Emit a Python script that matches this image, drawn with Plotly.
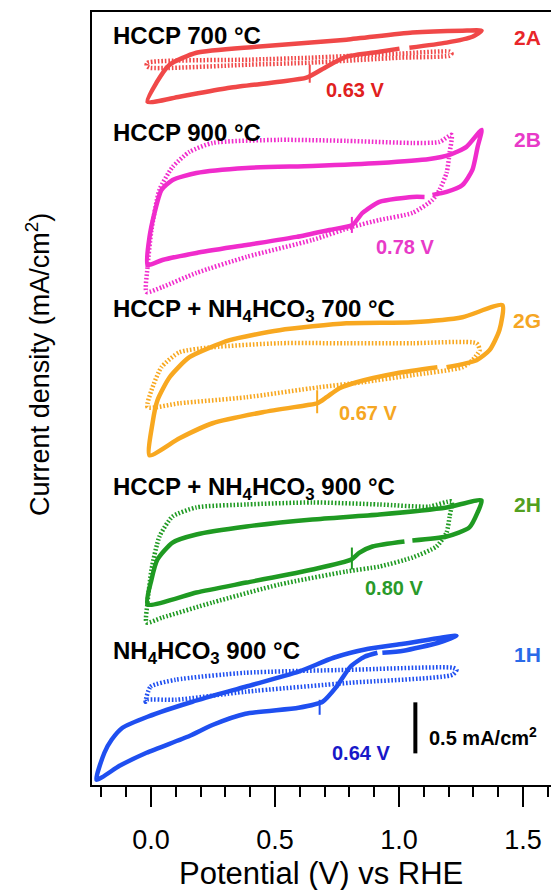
import plotly.graph_objects as go

# ---------------- data (potential V vs RHE, current density mA/cm2, relative to panel offset) ----
panel_names = ["HCCP 700 °C", "HCCP 900 °C", "HCCP + NH<sub>4</sub>HCO<sub>3</sub> 700 °C",
               "HCCP + NH<sub>4</sub>HCO<sub>3</sub> 900 °C", "NH<sub>4</sub>HCO<sub>3</sub> 900 °C"]
panel_codes = ["2A", "2B", "2G", "2H", "1H"]
panel_offsets = [7.0, 5.4, 3.8, 2.2, 0.6]
onset_labels = ["0.63 V", "0.78 V", "0.67 V", "0.80 V", "0.64 V"]
onset_marks_v = [0.64, 0.81, 0.67, 0.81, 0.68]
onset_marks_i = [[-0.118, 0.059], [0.010, 0.167], [-0.157, 0.069], [-0.088, 0.127], [0.088, 0.235]]

a_solid_v = [1.042, 1.192, 1.296, 1.333, 1.256, 1.054, 0.788, 0.425, 0.183, 0.075, 0.022, -0.014,
             0.115, 0.317, 0.518, 0.627, 0.708, 0.788, 0.921, 1.002]
a_solid_i = [0.225, 0.275, 0.333, 0.392, 0.392, 0.373, 0.304, 0.235, 0.176, 0.059, -0.118, -0.304,
             -0.255, -0.167, -0.108, -0.069, 0.039, 0.137, 0.186, 0.216]
a_dot_v = [-0.018, -0.014, 0.397, 0.639, 1.002, 1.204, 1.212, 1.204, 1.002, 0.639, 0.397, -0.006, -0.018]
a_dot_i = [0.049, 0.078, 0.108, 0.127, 0.167, 0.186, 0.167, 0.147, 0.127, 0.078, 0.059, 0.029, 0.049]

b_solid_v = [1.103, 1.054, 0.921, 0.853, 0.812, 0.719, 0.587, 0.385, 0.183, 0.046, -0.014, -0.006,
             0.014, 0.042, 0.087, 0.183, 0.385, 0.651, 0.921, 1.123, 1.204, 1.272, 1.333, 1.317,
             1.296, 1.256, 1.192, 1.135]
b_solid_i = [0.363, 0.363, 0.314, 0.206, 0.088, 0.039, -0.029, -0.108, -0.186, -0.255, -0.304, -0.029,
             0.206, 0.431, 0.529, 0.598, 0.647, 0.667, 0.696, 0.735, 0.775, 0.853, 1.020, 0.853,
             0.627, 0.480, 0.412, 0.382]
b_dot_v = [-0.018, -0.014, 0.002, 0.034, 0.087, 0.155, 0.248, 0.518, 0.788, 1.054, 1.163, 1.212,
           1.204, 1.192, 1.163, 1.135, 1.054, 0.921, 0.812, 0.651, 0.385, 0.183, 0.046, -0.018]
b_dot_i = [-0.569, -0.324, 0.039, 0.431, 0.657, 0.804, 0.892, 0.922, 0.912, 0.892, 0.902, 0.971,
           0.794, 0.598, 0.431, 0.333, 0.206, 0.137, 0.069, -0.059, -0.225, -0.382, -0.520, -0.569]

g_solid_v = [1.155, 0.990, 0.829, 0.760, 0.708, 0.671, 0.627, 0.450, 0.248, 0.115, -0.006, 0.006,
             0.026, 0.075, 0.155, 0.317, 0.518, 0.788, 1.054, 1.256, 1.417, 1.405, 1.365, 1.313, 1.192]
g_solid_i = [0.294, 0.235, 0.147, 0.088, 0.000, -0.059, -0.078, -0.147, -0.255, -0.402, -0.569, -0.255,
             -0.029, 0.196, 0.392, 0.559, 0.657, 0.725, 0.735, 0.784, 0.902, 0.657, 0.461, 0.363, 0.294]
g_dot_v = [-0.014, 0.002, 0.042, 0.115, 0.248, 0.518, 0.788, 1.054, 1.313, 1.325, 1.296, 1.256,
           1.054, 0.853, 0.679, 0.385, 0.115, -0.014]
g_dot_i = [-0.098, 0.069, 0.294, 0.441, 0.490, 0.529, 0.529, 0.529, 0.529, 0.461, 0.363, 0.294,
           0.216, 0.147, 0.098, 0.000, -0.059, -0.098]

h_solid_v = [1.022, 0.893, 0.841, 0.808, 0.651, 0.385, 0.183, -0.014, 0.002, 0.026, 0.087, 0.183,
             0.385, 0.651, 0.921, 1.192, 1.333, 1.317, 1.284, 1.192, 1.054]
h_solid_i = [0.186, 0.137, 0.078, 0.010, -0.088, -0.216, -0.314, -0.431, -0.186, 0.010, 0.176, 0.255,
             0.333, 0.402, 0.451, 0.520, 0.588, 0.471, 0.324, 0.235, 0.196]
h_dot_v = [-0.018, -0.014, 0.002, 0.034, 0.087, 0.183, 0.385, 0.651, 0.921, 1.123, 1.212, 1.204,
           1.192, 1.151, 1.054, 0.921, 0.788, 0.518, 0.248, 0.046, -0.018]
h_dot_i = [-0.608, -0.412, -0.088, 0.235, 0.431, 0.520, 0.549, 0.569, 0.549, 0.529, 0.578, 0.431,
           0.275, 0.137, 0.029, -0.059, -0.108, -0.235, -0.412, -0.559, -0.608]

n_solid_v = [0.913, 0.861, 0.804, 0.748, 0.692, 0.595, 0.381, 0.250, 0.155, -0.018, -0.127, -0.220,
             -0.188, -0.159, -0.115, -0.014, 0.167, 0.381, 0.595, 0.736, 0.877, 1.018, 1.232, 1.159,
             1.018, 0.933]
n_solid_i = [0.696, 0.657, 0.559, 0.363, 0.216, 0.157, 0.098, -0.010, -0.120, -0.284, -0.412, -0.549,
             -0.284, -0.157, -0.039, 0.069, 0.216, 0.363, 0.510, 0.647, 0.735, 0.784, 0.863, 0.794,
             0.716, 0.696]
n_dot_v = [-0.022, -0.002, 0.099, 0.381, 0.804, 1.216, 1.232, 1.216, 0.804, 0.381, 0.099, -0.014, -0.022]
n_dot_i = [0.216, 0.363, 0.431, 0.500, 0.529, 0.549, 0.529, 0.480, 0.402, 0.314, 0.235, 0.235, 0.216]

scale_bar_value = 0.5  # mA/cm2
scale_bar_v = 1.066
scale_bar_base = 0.31

x_ticks = [0.0, 0.5, 1.0, 1.5]

# ---------------- styling ----------------
line_colors = ["#f04848", "#f02ccc", "#f8a820", "#1f9a22", "#1f4ff0"]
code_colors = ["#e8262a", "#e83ac8", "#f5a623", "#52a020", "#2a6ae8"]
onset_colors = ["#e02020", "#e83ac8", "#f5a623", "#2a9a2a", "#1818c8"]
FONT = "Liberation Sans, Arial, sans-serif"

solids = [(a_solid_v, a_solid_i), (b_solid_v, b_solid_i), (g_solid_v, g_solid_i),
          (h_solid_v, h_solid_i), (n_solid_v, n_solid_i)]
dots = [(a_dot_v, a_dot_i), (b_dot_v, b_dot_i), (g_dot_v, g_dot_i),
        (h_dot_v, h_dot_i), (n_dot_v, n_dot_i)]

fig = go.Figure()
for k in range(5):
    off = panel_offsets[k]
    dv, di = dots[k]
    fig.add_trace(go.Scatter(x=dv, y=[v + off for v in di], mode="lines",
                             line=dict(color=line_colors[k], width=4.5, dash="1.6px,1.9px",
                                       shape="spline", smoothing=0.6),
                             hoverinfo="skip", showlegend=False))
    sv, si = solids[k]
    fig.add_trace(go.Scatter(x=sv, y=[v + off for v in si], mode="lines",
                             line=dict(color=line_colors[k], width=4.5, shape="spline", smoothing=0.6),
                             hoverinfo="skip", showlegend=False))
    mv = onset_marks_v[k]
    fig.add_trace(go.Scatter(x=[mv, mv], y=[v + off for v in onset_marks_i[k]], mode="lines",
                             line=dict(color=line_colors[k], width=2),
                             hoverinfo="skip", showlegend=False))

# scale bar
fig.add_trace(go.Scatter(x=[scale_bar_v, scale_bar_v],
                         y=[scale_bar_base, scale_bar_base + scale_bar_value], mode="lines",
                         line=dict(color="black", width=4), hoverinfo="skip", showlegend=False))

# annotations
name_y = [7.348, 6.392, 4.647, 2.902, 1.294]
code_y = [7.324, 6.324, 4.549, 2.745, 1.275]
onset_pos = [(0.699, 6.814), (0.901, 5.275), (0.748, 3.647), (0.853, 1.931), (0.720, 0.314)]
ann = []
for k in range(5):
    ann.append(dict(x=-0.163, y=name_y[k], xref="x", yref="y", text=panel_names[k],
                    showarrow=False, xanchor="left", yanchor="middle",
                    font=dict(family=FONT, size=24, color="black", weight="bold")))
    ann.append(dict(x=1.518, y=code_y[k], xref="x", yref="y", text=panel_codes[k],
                    showarrow=False, xanchor="center", yanchor="middle",
                    font=dict(family=FONT, size=21, color=code_colors[k], weight="bold")))
    ann.append(dict(x=onset_pos[k][0], y=onset_pos[k][1], xref="x", yref="y", text=onset_labels[k],
                    showarrow=False, xanchor="left", yanchor="middle",
                    font=dict(family=FONT, size=20, color=onset_colors[k], weight="bold")))
ann.append(dict(x=1.111, y=0.471, xref="x", yref="y", text="0.5 mA/cm<sup>2</sup>",
                showarrow=False, xanchor="left", yanchor="middle",
                font=dict(family=FONT, size=20, color="black", weight="bold")))
ann.append(dict(x=0.685, y=-0.115, xref="x", yref="paper", text="Potential (V) vs RHE",
                showarrow=False, xanchor="center", yanchor="middle",
                font=dict(family=FONT, size=31, color="black")))
ann.append(dict(x=-0.1176, y=0.5435, xref="paper", yref="paper", text="Current density (mA/cm<sup>2</sup>)",
                showarrow=False, xanchor="center", yanchor="middle", textangle=-90,
                font=dict(family=FONT, size=27, color="black")))

fig.update_layout(
    width=551, height=890,
    margin=dict(l=92, r=0, t=12, b=105),
    paper_bgcolor="white", plot_bgcolor="white",
    annotations=ann,
    xaxis=dict(range=[-0.238, 1.613], showgrid=False, zeroline=False,
               showline=True, linecolor="black", linewidth=2, mirror=True,
               tickmode="array", tickvals=x_ticks, ticktext=[f"{t:.1f}" for t in x_ticks],
               ticks="outside", ticklen=20, tickwidth=2, tickcolor="black",
               ticklabelstandoff=10,
               tickfont=dict(family=FONT, size=27, color="black"),
               minor=dict(dtick=0.1, tick0=0, ticks="outside", ticklen=10, tickwidth=2,
                          tickcolor="black", showgrid=False)),
    yaxis=dict(range=[0, 7.575], showgrid=False, zeroline=False, showticklabels=False,
               ticks="", showline=True, linecolor="black", linewidth=2, mirror=False),
)

fig.write_html("out.html", config={"displayModeBar": False},
               post_script="document.body.style.margin='0';document.body.style.padding='0';"
                           "document.body.style.overflow='hidden';")
